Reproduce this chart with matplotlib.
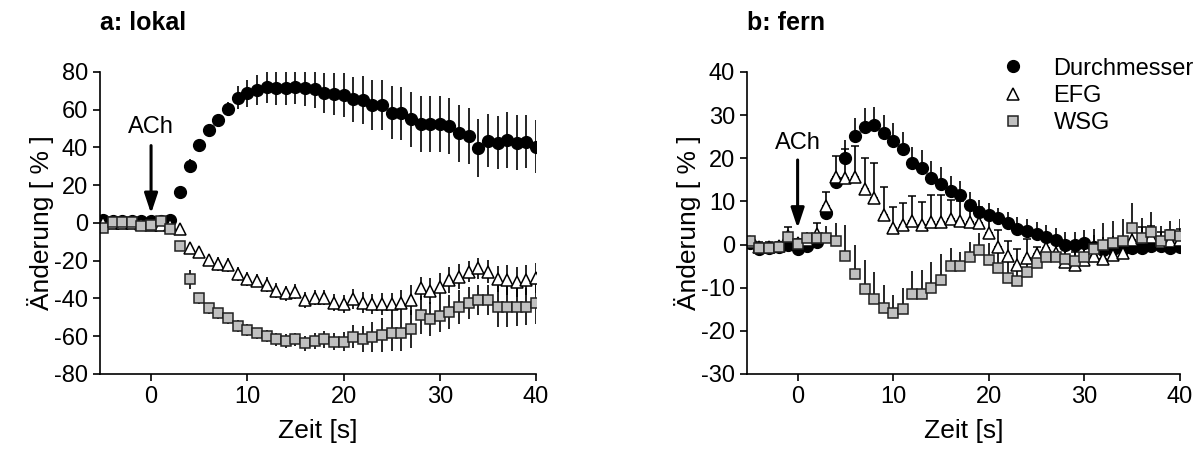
import numpy as np
import matplotlib
matplotlib.use("Agg")
import matplotlib.pyplot as plt
from matplotlib.lines import Line2D

plt.rcParams['font.family'] = ['Liberation Sans', 'DejaVu Sans']
plt.rcParams['axes.unicode_minus'] = False

# zeit in s, ein punkt pro sekunde
zeit = np.arange(-5, 41)

# a: lokal
lokal_durchmesser = [1.5, 1, 1, 1, 1, 1, 1, 1.5,
                     16.6, 30.4, 41.3, 49.3, 54.6, 60.4, 66.4, 68.7, 70.5, 71.9,
                     71.4, 71.4, 72.2, 71.4, 70.8, 68.7, 68.3, 67.8, 65.5, 65.2,
                     62.5, 62.5, 58.4, 58, 54.9, 52.4, 52.4, 52.4, 51.4, 47.5,
                     46.1, 39.6, 43.6, 42.6, 44, 42.6, 43.1, 40.4]
lokal_durchmesser_err = [1.5] * 8 + [3, 3.5, 3, 3, 3, 3.5, 6, 7, 8, 8.5,
                                     9, 9, 9, 9.5, 10, 10.5, 11, 11.5, 12, 12.5,
                                     13, 13.5, 14, 14, 14.5, 15, 15, 15, 15, 15,
                                     15, 15.5, 14, 14, 15, 14.5, 14, 14]
lokal_efg = [0, 0, 0, 0, -0.5, -1, -1, -1,
             -3.3, -13.4, -15.2, -19.6, -21.7, -22.3, -27, -29.7, -30.5, -32.8,
             -35.8, -37.3, -36.4, -40.8, -39.6, -39.6, -42.2, -42.9, -40.3, -42.2,
             -42.9, -42.9, -42.9, -42.2, -41, -34.6, -36, -33.7, -30.2, -28.4,
             -25.8, -24, -25.8, -29.8, -30.2, -31.1, -30.2, -29]
lokal_efg_err = [1.5] * 8 + [2, 3, 3, 3, 3.5, 3.5, 3.5, 3.5, 3.5, 4,
                             4, 4, 4, 4, 4, 4, 4.5, 5, 5.5, 5.5,
                             5.5, 6, 6, 6.5, 8, 6, 7, 7, 7, 6.5,
                             5.5, 5.5, 6, 7, 8, 8, 8, 8]
lokal_wsg = [-2.8, 0.7, 0.7, 0.7, -1.6, -1, 1.2, -3.3,
             -12.2, -29.8, -39.9, -45.2, -47.8, -50.5, -54.6, -56.7, -58.4, -59.9,
             -61.6, -62.5, -61.6, -63.7, -62.5, -61.6, -63, -63, -60.2, -61.6,
             -60.2, -59.3, -58.1, -58.1, -56.3, -48.7, -51, -49.3, -47, -44.7,
             -42.6, -40.8, -40.8, -44.3, -44.3, -44.7, -44.3, -42.6]
lokal_wsg_err = [1.5] * 8 + [2.5, 5, 3, 3, 3, 3, 3, 3, 3, 3,
                             3.5, 3.5, 3.5, 4, 4, 4.5, 4.5, 5, 6, 7,
                             8, 9, 9.5, 9.5, 10, 10, 9, 8.5, 9, 9,
                             8.5, 8, 8, 11, 11, 10, 10, 11]

# b: fern
fern_durchmesser = [0.4, -1, -0.7, -0.5, -0.1, -1.1, -0.3, 0.7,
                    7.4, 14.6, 20, 25.1, 27.2, 27.6, 25.9, 24.1, 22.1, 18.8,
                    17.8, 15.4, 14.1, 12.3, 11.5, 9.2, 7.5, 6.9, 6.1, 4.9,
                    3.7, 3.1, 2.5, 1.8, 1, -0.1, -0.2, 0.3, -0.5, -1.2,
                    -1.1, -1.1, -0.9, -0.7, -0.3, -0.3, -0.8, -0.5]
fern_durchmesser_err = [0.8] * 8 + [1.5, 2, 4.2, 4.2, 4.4, 4.2, 4.1, 4.1, 4, 3.8,
                                    4.2, 3.9, 3.8, 3.5, 3.3, 3, 2.8, 2.7, 2.4, 2.6,
                                    2.8, 2.8, 2.8, 2.8, 2.8, 3, 3, 3, 2.8, 3,
                                    3, 2.5, 2.5, 2.5, 2.5, 2.2, 2.2, 2.2]
fern_efg = [0.5, -0.5, -0.5, -0.3, 2, 0.3, 1, 2.5,
            9, 15.6, 15.4, 15.6, 12.8, 10.7, 6.9, 3.8, 4.5, 5.5,
            4.5, 5.3, 5.3, 5.9, 5.5, 5.3, 5.1, 2.6, -0.5, -2.6,
            -4.7, -3.2, -2.2, -0.8, -2, -4, -4.7, -3.5, -2.6, -3.3,
            -2.5, -1.9, 1.1, 1.5, 1.8, 0.5, 0.8, 1]
fern_efg_err = [1, 1, 1, 1, 2, 1, 1.5, 2.6,
                3.2, 4.9, 6.7, 7.3, 7.2, 8.2, 6.5, 4.8, 5.1, 5.8,
                5.4, 6.2, 6.3, 4.5, 4.5, 4, 3.5, 3.5, 3.9, 3.5,
                3.6, 4.4, 1.7, 3, 3, 3.5, 3, 3, 3, 3,
                3, 3, 2.5, 2.5, 2.5, 2.5, 2.5, 2.5]
fern_wsg = [0.9, -0.9, -0.7, -0.5, 1.8, 0.1, 1.5, 1.5,
            1.5, 0.8, -2.7, -6.9, -10.4, -12.7, -14.8, -15.8, -15, -11.4,
            -11.5, -10, -8.1, -5, -5, -3, -1.3, -3.6, -5.5, -7.8,
            -8.4, -6.3, -4.3, -2.8, -2.8, -3.4, -3.8, -2.9, -1, -0.1,
            0.4, 0.9, 3.9, 1.6, 2.9, 0.8, 2.1, 2]
fern_wsg_err = [1, 1, 1, 1, 1.5, 1, 1.5, 1.5,
                2.9, 4.2, 7.2, 6.7, 6.8, 6.4, 5.4, 4.1, 4.9, 5.3,
                5.7, 5.9, 5.8, 4.1, 3.2, 3.7, 3.9, 4, 4, 4.5,
                4, 4, 3.5, 3.5, 3.5, 4, 4, 4.5, 4.5, 5,
                5, 5, 5.7, 4.5, 4.6, 3.5, 3.3, 4]

labels = ['Durchmesser', 'EFG', 'WSG']

GRAU = '#c0c0c0'
FS = 17

fig = plt.figure(figsize=(12.04, 4.59), dpi=100)
ax1 = fig.add_axes([0.0831, 0.1852, 0.3621, 0.658])
ax2 = fig.add_axes([0.6204, 0.1852, 0.3596, 0.658])

stile = [dict(fmt='o', ms=8.5, mfc='k', mec='k', mew=1.0),
         dict(fmt='^', ms=8.5, mfc='white', mec='k', mew=1.1),
         dict(fmt='s', ms=7.5, mfc=GRAU, mec='#222222', mew=1.1)]

# links: symmetrische fehlerbalken, keine kappen
for werte, fehler, st in zip([lokal_durchmesser, lokal_efg, lokal_wsg],
                             [lokal_durchmesser_err, lokal_efg_err, lokal_wsg_err],
                             stile):
    ax1.errorbar(zeit, werte, yerr=fehler, ecolor='k', elinewidth=1.2,
                 capsize=0, **st)

# rechts: nur nach oben, EFG mit kappen
kappen = [0, 3, 0]
for werte, fehler, st, cs in zip([fern_durchmesser, fern_efg, fern_wsg],
                                 [fern_durchmesser_err, fern_efg_err, fern_wsg_err],
                                 stile, kappen):
    fehler = np.array(fehler)
    ax2.errorbar(zeit, werte, yerr=[np.zeros_like(fehler), fehler], ecolor='k',
                 elinewidth=1.2, capsize=cs, capthick=1.2, **st)

ax1.set_ylim(-80, 80)
ax1.set_yticks(np.arange(-80, 81, 20))
ax2.set_ylim(-30, 40)
ax2.set_yticks(np.arange(-30, 41, 10))

for ax, titel in [(ax1, 'a: lokal'), (ax2, 'b: fern')]:
    ax.set_xlim(-5.3, 40)
    ax.set_xticks([0, 10, 20, 30, 40])
    ax.spines['top'].set_visible(False)
    ax.spines['right'].set_visible(False)
    for s in ['left', 'bottom']:
        ax.spines[s].set_linewidth(1.2)
    ax.tick_params(direction='out', length=5, width=1.2, labelsize=FS)
    ax.set_xlabel('Zeit [s]', fontsize=FS + 2, labelpad=8)
    ax.set_ylabel('Änderung [ % ]', fontsize=FS + 2, labelpad=0)
    ax.set_title(titel, loc='left', fontsize=FS + 1, fontweight='bold', pad=30)

pfeil = dict(arrowstyle='-|>,head_length=0.6,head_width=0.2', lw=2.2,
             color='k', shrinkA=0, shrinkB=0, mutation_scale=20)
ax1.annotate('', xy=(0, 5), xytext=(0, 41), arrowprops=pfeil)
ax1.text(0, 51, 'ACh', ha='center', va='center', fontsize=FS)
ax2.annotate('', xy=(0, 3.8), xytext=(0, 19.6), arrowprops=pfeil)
ax2.text(0, 23.5, 'ACh', ha='center', va='center', fontsize=FS)

griffe = [Line2D([], [], ls='none', marker='o', ms=8.5, mfc='k', mec='k'),
          Line2D([], [], ls='none', marker='^', ms=8, mfc='white', mec='k', mew=1.1),
          Line2D([], [], ls='none', marker='s', ms=7, mfc=GRAU, mec='#222222', mew=1.1)]
fig.legend(griffe, labels, loc='upper left', bbox_to_anchor=(0.824, 0.9),
           frameon=False, fontsize=FS, handletextpad=1.3, labelspacing=0.22,
           borderpad=0, handlelength=0.8)

fig.savefig('out.png', dpi=100)
